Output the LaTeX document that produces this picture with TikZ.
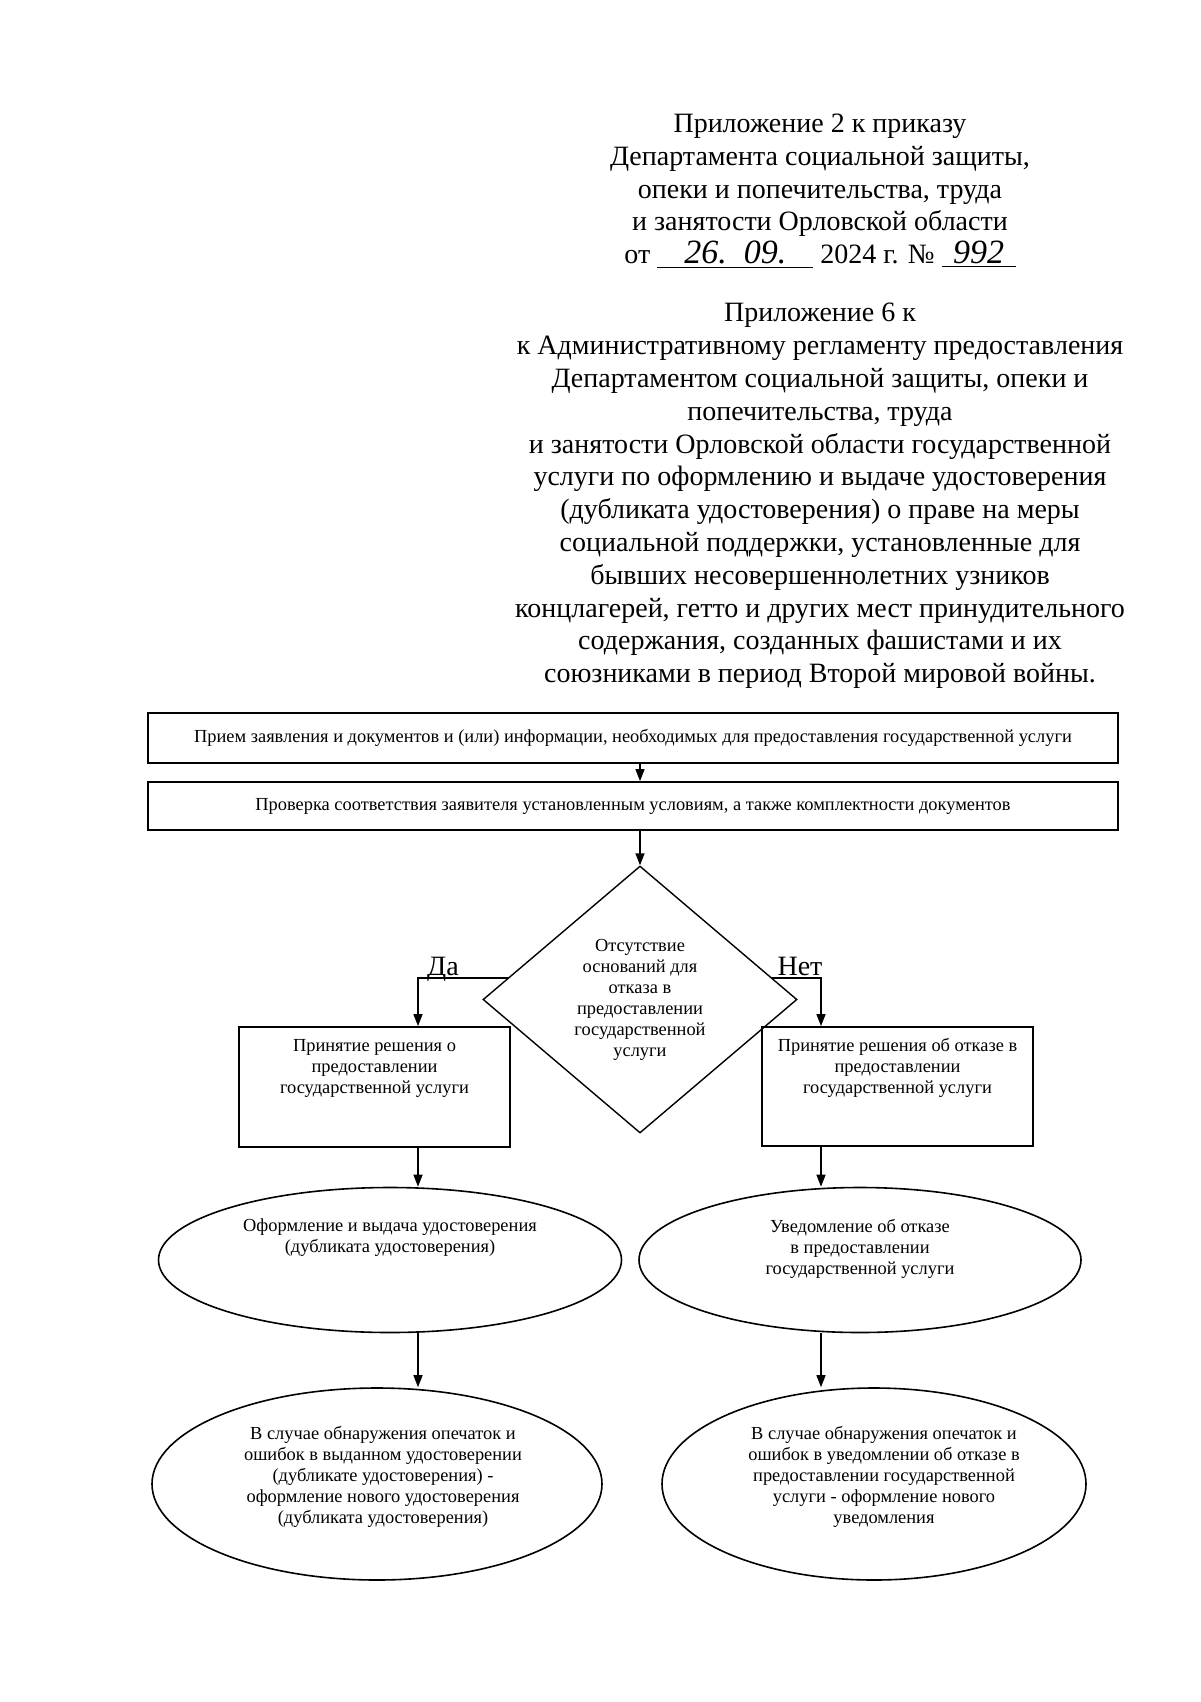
\documentclass[tikz,border=0pt]{standalone}
\usepackage{fontspec}
\setmainfont{Liberation Serif}
\usetikzlibrary{arrows.meta,positioning,shapes.geometric,calc}

\tikzset{
	head/.style={align=center, inner sep=0pt, font=\fontsize{14}{16.4}\selectfont},
	txt/.style={align=center, inner sep=0pt, font=\fontsize{9.2}{10.5}\selectfont},
	stage/.style={draw, line width=0.9pt, rectangle, inner sep=0pt, align=center, font=\fontsize{9.2}{10.5}\selectfont},
	check/.style={draw, line width=0.7pt, diamond, inner sep=1pt, align=center, font=\fontsize{9.2}{10.5}\selectfont},
	oval/.style={draw, line width=0.8pt, ellipse, inner sep=0pt},
}

\begin{document}
\begin{tikzpicture}[x=0.5pt, y=-0.5pt]
	\useasboundingbox (0,0) rectangle (1200,1702);

	% header
	\node[head] (order) at (820,191) {Приложение 2 к приказу\\
		Департамента социальной защиты,\\
		опеки и попечительства, труда\\
		и занятости Орловской области\\
		от \underline{\makebox[78pt]{\fontsize{17}{17}\selectfont\itshape 26.\ \ 09.}} 2024 г. № \underline{\makebox[37pt]{\fontsize{17}{17}\selectfont\itshape 992}}};
	\node[head] (annex) at (820,496) {Приложение 6 к\\
		к Административному регламенту предоставления\\
		Департаментом социальной защиты, опеки и\\
		попечительства, труда\\
		и занятости Орловской области государственной\\
		услуги по оформлению и выдаче удостоверения\\
		(дубликата удостоверения) о праве на меры\\
		социальной поддержки, установленные для\\
		бывших несовершеннолетних узников\\
		концлагерей, гетто и других мест принудительного\\
		содержания, созданных фашистами и их\\
		союзниками в период Второй мировой войны.};

	% blocks
	\node[stage, minimum width=485pt, minimum height=25pt] (intake) at (633,738) {Прием заявления и документов и (или) информации, необходимых для предоставления государственной услуги};
	\node[stage, minimum width=485pt, minimum height=24pt] (verify) at (633,806) {Проверка соответствия заявителя установленным условиям, а также комплектности документов};
	\node[check, minimum width=157pt, minimum height=133.5pt] (grounds) at (640,999.5) {Отсутствие\\ оснований для\\ отказа в\\ предоставлении\\ государственной\\ услуги};

	\node[stage, minimum width=135.5pt, minimum height=60pt] (grant) at (374.5,1087) {};
	\node[txt] (granttext) at ([yshift=9.5pt]grant.center) {Принятие решения о\\ предоставлении\\ государственной услуги};
	\node[stage, minimum width=135.5pt, minimum height=59.5pt] (deny) at (897.5,1086.5) {};
	\node[txt] (denytext) at ([yshift=9.25pt]deny.center) {Принятие решения об отказе в\\ предоставлении\\ государственной услуги};

	\node[oval, minimum width=231.5pt, minimum height=72.5pt] (issue) at (390,1260) {};
	\node[txt] (issuetext) at ([yshift=11pt]issue.center) {Оформление и выдача удостоверения\\ (дубликата удостоверения)};
	\node[oval, minimum width=221pt, minimum height=72.5pt] (notice) at (860,1260) {};
	\node[txt] (noticetext) at ([yshift=5.5pt]notice.center) {Уведомление об отказе\\ в предоставлении\\ государственной услуги};

	\node[oval, minimum width=225pt, minimum height=96pt] (fixissue) at (377,1484) {};
	\node[txt] (fixissuetext) at ([xshift=3pt,yshift=3.5pt]fixissue.center) {В случае обнаружения опечаток и\\ ошибок в выданном удостоверении\\ (дубликате удостоверения) -\\ оформление нового удостоверения\\ (дубликата удостоверения)};
	\node[oval, minimum width=212pt, minimum height=96pt] (fixnotice) at (874,1484) {};
	\node[txt] (fixnoticetext) at ([xshift=5pt,yshift=3.5pt]fixnotice.center) {В случае обнаружения опечаток и\\ ошибок в уведомлении об отказе в\\ предоставлении государственной\\ услуги - оформление нового\\ уведомления};

	\node[head, anchor=base] (yes) at (443,975) {Да};
	\node[head, anchor=base] (no) at (800,975) {Нет};
	\coordinate (yescol) at (418,978);
	\coordinate (nocol) at (821,978);

	\begin{scope}[>={Triangle[length=6pt,width=4.5pt]},
	              every path/.style={->, line width=0.7pt}]
		\draw (intake.south -| grounds.north) -- (verify.north -| grounds.north);
		\draw (verify.south -| grounds.north) -- (grounds.north);
		\draw ($(grounds.west)!0.16!(grounds.north)$) -| (grant.north -| yescol);
		\draw ($(grounds.east)!0.16!(grounds.north)$) -| (deny.north -| nocol);
		\draw (grant.south -| yescol) -- (issue.north -| yescol);
		\draw (issue.south -| yescol) -- (fixissue.north -| yescol);
		\draw (deny.south -| nocol) -- (notice.north -| nocol);
		\draw (notice.south -| nocol) -- (fixnotice.north -| nocol);
	\end{scope}
\end{tikzpicture}
\end{document}
